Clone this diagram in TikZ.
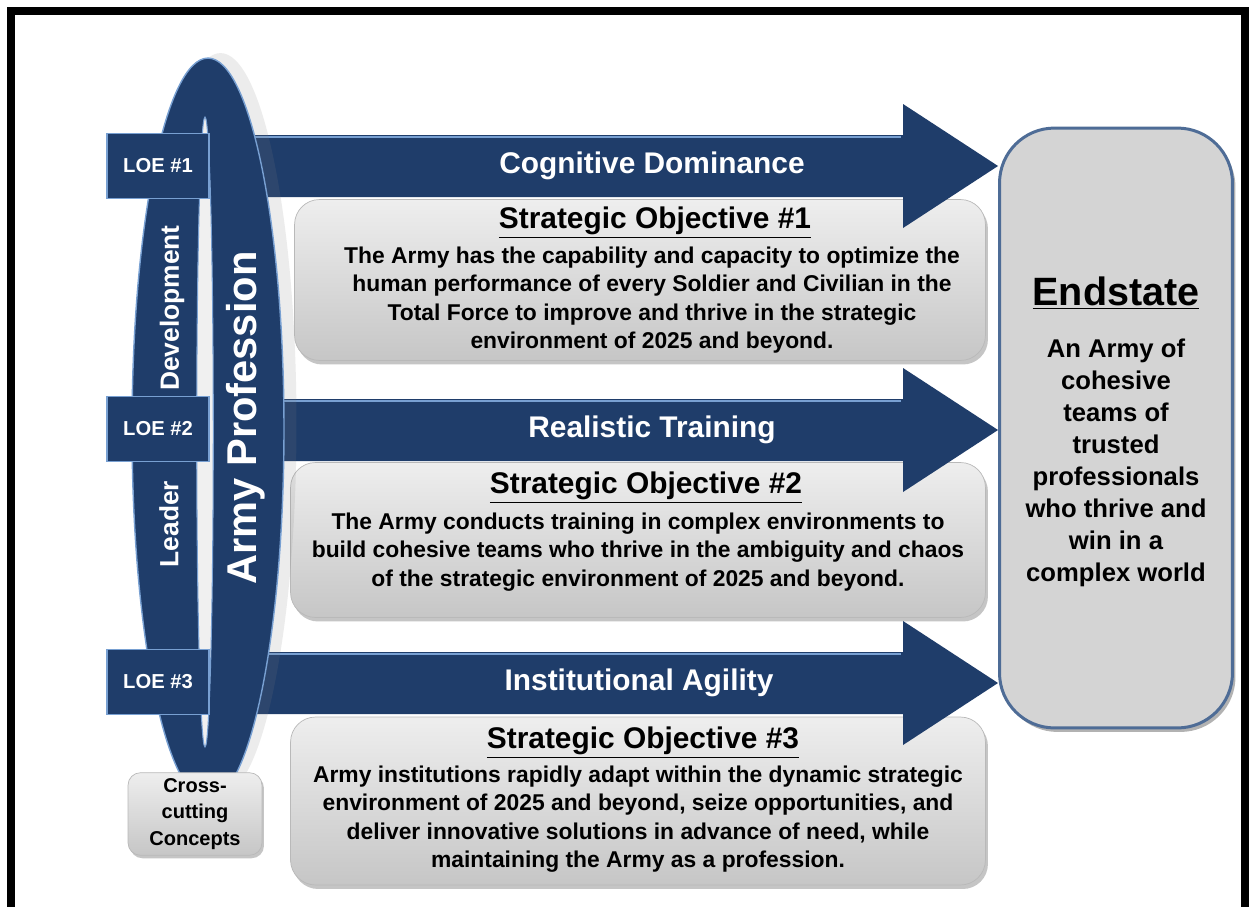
\documentclass[tikz,border=0pt]{standalone}
\usepackage{fontspec}
\setmainfont{Liberation Sans}
\usetikzlibrary{shapes.geometric,positioning,calc,shadows}
\definecolor{loeblue}{RGB}{31,61,106}
\definecolor{edgeblue}{RGB}{120,160,210}
\definecolor{boxtop}{RGB}{238,238,238}
\definecolor{boxbot}{RGB}{198,198,198}
\definecolor{endfill}{RGB}{212,212,212}
\definecolor{endedge}{RGB}{78,108,150}

\begin{document}
\begin{tikzpicture}[
    x=0.02cm, y=-0.02cm,
    objbox/.style={rectangle, rounded corners=0.5cm, top color=boxtop, bottom color=boxbot, draw=gray!55,
        drop shadow={opacity=0.45, shadow xshift=0.05cm, shadow yshift=-0.08cm}},
    loebox/.style={rectangle, fill=loeblue, draw=edgeblue, line width=0.7pt, minimum width=2.04cm,
        minimum height=1.3cm, text=white, font=\bfseries\fontsize{11.5}{13}\selectfont},
    arrowlabel/.style={text=white, font=\bfseries\fontsize{17}{20}\selectfont},
    objtitle/.style={font=\bfseries\fontsize{17}{20}\selectfont},
    objtext/.style={align=center, font=\bfseries\fontsize{13}{16.2}\selectfont},
    bandtext/.style={rotate=90, text=white, font=\bfseries\fontsize{15}{18}\selectfont}
]
    \useasboundingbox (0,0) rectangle (1249,907);
    \fill[white] (0,0) rectangle (1249,907);

    % Endstate
    \node[rectangle, rounded corners=1.1cm, fill=endfill, draw=endedge, line width=0.06cm,
        minimum width=4.66cm, minimum height=12cm,
        drop shadow={opacity=0.6, shadow xshift=0.06cm, shadow yshift=-0.08cm}] (endstate) at (1116,428) {};
    \node[font=\bfseries\fontsize{22.5}{26}\selectfont] (endtitle) at (1116,293) {\underline{Endstate}};
    \node[align=center, font=\bfseries\fontsize{14.6}{18.2}\selectfont] (endtext) at (1116,463)
        {An Army of\\cohesive\\teams of\\trusted\\professionals\\who thrive and\\win in a\\complex world};

    % Strategic objectives
    \node[objbox, minimum width=13.82cm, minimum height=3.22cm] (obj1) at (640,280) {};
    \node[objbox, minimum width=13.9cm, minimum height=3.1cm] (obj2) at (638,540) {};
    \node[objbox, minimum width=13.9cm, minimum height=3.36cm] (obj3) at (638,801) {};

    \node[objtitle] (title1) at (655,223) {\underline{Strategic Objective \#1}};
    \node[objtext] (text1) at (652,300) {The Army has the capability and capacity to optimize the\\
        human performance of every Soldier and Civilian in the\\
        Total Force to improve and thrive in the strategic\\
        environment of 2025 and beyond.};
    \node[objtitle] (title2) at (646,488) {\underline{Strategic Objective \#2}};
    \node[objtext] (text2) at (638,552) {The Army conducts training in complex environments to\\
        build cohesive teams who thrive in the ambiguity and chaos\\
        of the strategic environment of 2025 and beyond.};
    \node[objtitle] (title3) at (643,743) {\underline{Strategic Objective \#3}};
    \node[objtext] (text3) at (638,819) {Army institutions rapidly adapt within the dynamic strategic\\
        environment of 2025 and beyond, seize opportunities, and\\
        deliver innovative solutions in advance of need, while\\
        maintaining the Army as a profession.};

    % Lines of effort (arrows into the endstate)
    \coordinate (row1) at (0,166);
    \coordinate (row2) at (0,430);
    \coordinate (row3) at (0,683);
    \foreach \i/\txt/\xx in {1/Cognitive Dominance/652, 2/Realistic Training/652, 3/Institutional Agility/639} {
        \coordinate (tip\i) at (endstate.west |- row\i);
        \fill[loeblue] ($(tip\i)+(-790,-31)$) -- ($(tip\i)+(-95,-31)$) -- ($(tip\i)+(-95,-62)$)
            -- (tip\i) -- ($(tip\i)+(-95,62)$) -- ($(tip\i)+(-95,31)$) -- ($(tip\i)+(-790,31)$) -- cycle;
        \draw[edgeblue, line width=1.5pt] ($(tip\i)+(-790,-29)$) -- ($(tip\i)+(-97,-29)$);
        \node[arrowlabel] (lab\i) at (\xx,0 |- row\i) {\txt};
    }

    % Army Profession ring
    \node[ellipse, fill=loeblue, draw=edgeblue, line width=0.8pt, minimum width=3.04cm, minimum height=14.84cm,
        drop shadow={opacity=0.15, shadow xshift=0.25cm, shadow yshift=0.1cm}] (prof) at (208,429) {};
    \node[ellipse, fill=gray!12, draw=edgeblue, line width=0.6pt, minimum width=0.26cm, minimum height=12.6cm] (gap) at (205,432) {};
    \node[bandtext, font=\bfseries\fontsize{23.7}{28}\selectfont] (proftext) at (246,418) {Army Profession};
    \node[bandtext] (devtext) at (172,308) {Development};
    \node[bandtext] (leadtext) at (169,524) {Leader};

    % LOE boxes
    \node[loebox] (loe1) at (158,166) {LOE \#1};
    \node[loebox] (loe2) at (158,429) {LOE \#2};
    \node[loebox] (loe3) at (158,682) {LOE \#3};

    % Cross-cutting concepts
    \node[rectangle, rounded corners=0.25cm, top color=boxtop, bottom color=boxbot, draw=gray!55,
        drop shadow={opacity=0.45, shadow xshift=0.04cm, shadow yshift=-0.06cm},
        minimum width=2.68cm, minimum height=1.64cm, align=center,
        font=\bfseries\fontsize{11.4}{15}\selectfont] (cross) at (195,814) {Cross-\\cutting\\Concepts};

    % frame
    \draw[black, line width=0.16cm] (11,907) -- (11,11) -- (1245,11) -- (1245,907);
\end{tikzpicture}
\end{document}
